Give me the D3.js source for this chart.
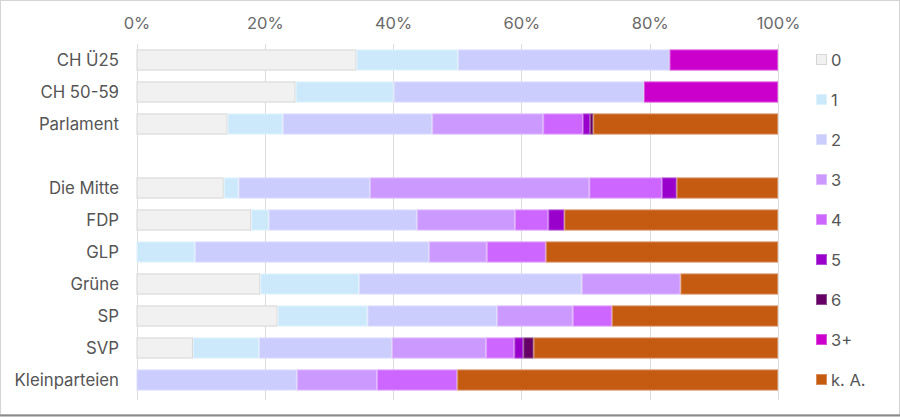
<!DOCTYPE html>
<html><head><meta charset="utf-8">
<script src="https://cdn.jsdelivr.net/npm/d3@7"></script>
<style>body{margin:0;background:#fff;}svg{display:block;font-family:Inter,"Noto Sans",sans-serif;}</style>
</head><body><svg id="c" width="900" height="417"></svg>
<script>
const categories = ["CH Ü25","CH 50-59","Parlament","","Die Mitte","FDP","GLP","Grüne","SP","SVP","Kleinparteien"];
const keys = ["0","1","2","3","4","5","6","3+","k. A."];
const colors = ["#f1f1f1","#cce9fb","#cbcdfc","#cc99ff","#cc66ff","#9900cc","#660066","#cc00cc","#c55a11"];
const strokes = ["#d6d6d6","#e0f2fd","#dcdefd","#ddbbff","#dd99ff","#b34dd9","#8c4d8c","#dc4ddc","#d88c5a"];
const v0  = [34.3,24.8,14.2,0,13.6,17.9,0,19.3,22.0,8.8,0];
const v1  = [15.8,15.3,8.6,0,2.3,2.7,9.1,15.4,14.0,10.3,0];
const v2  = [33.0,39.0,23.3,0,20.5,23.1,36.5,34.7,20.2,20.7,25.0];
const v3  = [0,0,17.3,0,34.2,15.3,9.0,15.4,11.8,14.7,12.5];
const v4  = [0,0,6.2,0,11.3,5.2,9.2,0,6.1,4.4,12.5];
const v5  = [0,0,1.1,0,2.3,2.5,0,0,0,1.4,0];
const v6  = [0,0,0.5,0,0,0,0,0,0,1.6,0];
const v3p = [16.9,20.9,0,0,0,0,0,0,0,0,0];
const vKA = [0,0,28.8,0,15.8,33.3,36.2,15.2,25.9,38.1,50.0];
const tickValues = [0,20,40,60,80,100];

const series = [v0,v1,v2,v3,v4,v5,v6,v3p,vKA];
const rows = categories.map((c,i)=>{const r={cat:c,key:"r"+i};keys.forEach((k,j)=>r[k]=series[j][i]);return r;});

const svg = d3.select("#c");
// frame
svg.append("rect").attr("x",0.5).attr("y",0.5).attr("width",899).attr("height",414).attr("fill","none").attr("stroke","#d4d4d4");
svg.append("line").attr("x1",0).attr("x2",900).attr("y1",415.5).attr("y2",415.5).attr("stroke","#8a8a8a").attr("stroke-width",2);

const x = d3.scaleLinear().domain([0,100]).range([136.5,778]);
const y = d3.scaleBand().domain(rows.map(r=>r.key)).range([44,396]).paddingInner(0.34).paddingOuter(0.17);

// gridlines
svg.append("g").selectAll("line").data(tickValues).join("line")
  .attr("x1",d=>Math.round(x(d))+0.5).attr("x2",d=>Math.round(x(d))+0.5)
  .attr("y1",44).attr("y2",400).attr("stroke","#dcdcdc").attr("stroke-width",1);

// axis top
const ax = svg.append("g").attr("transform","translate(0,29)")
  .call(d3.axisTop(x).tickValues(tickValues).tickFormat(d=>d+"%").tickSize(0).tickPadding(0));
ax.select(".domain").remove();
ax.selectAll("text").attr("fill","#6a6a6a").attr("font-size",16.5).attr("font-weight",400).attr("font-family","Inter,sans-serif");

// bars
const stack = d3.stack().keys(keys)(rows);
svg.append("g").selectAll("g").data(stack).join("g")
  .attr("fill",(d,i)=>colors[i]).attr("stroke",(d,i)=>strokes[i])
  .selectAll("rect").data(d=>d.filter(p=>p[1]-p[0]>0)).join("rect")
  .attr("x",d=>x(d[0])+0.5).attr("width",d=>Math.max(0,x(d[1])-x(d[0])-1))
  .attr("y",d=>y(d.data.key)+0.5).attr("height",y.bandwidth()-1).attr("stroke-width",1);

// category labels
svg.append("g").selectAll("text").data(rows.filter(r=>r.cat)).join("text")
  .attr("x",119).attr("y",r=>y(r.key)+y.bandwidth()/2).attr("dy","0.35em")
  .attr("text-anchor","end").attr("fill","#555").attr("font-size",16.8).attr("font-weight",400).text(r=>r.cat);

// legend
const lg = svg.append("g").selectAll("g").data(keys).join("g")
  .attr("transform",(d,i)=>`translate(816,${60+i*40})`);
lg.append("rect").attr("x",0.5).attr("y",-5.5).attr("width",10).attr("height",10)
  .attr("fill",(d,i)=>colors[i]).attr("stroke",(d,i)=>i===0?"#d6d6d6":strokes[i]);
lg.append("text").attr("x",15).attr("y",0).attr("dy","0.35em").attr("fill","#555")
  .attr("font-size",16.5).attr("font-weight",400).text(d=>d);
</script></body></html>
